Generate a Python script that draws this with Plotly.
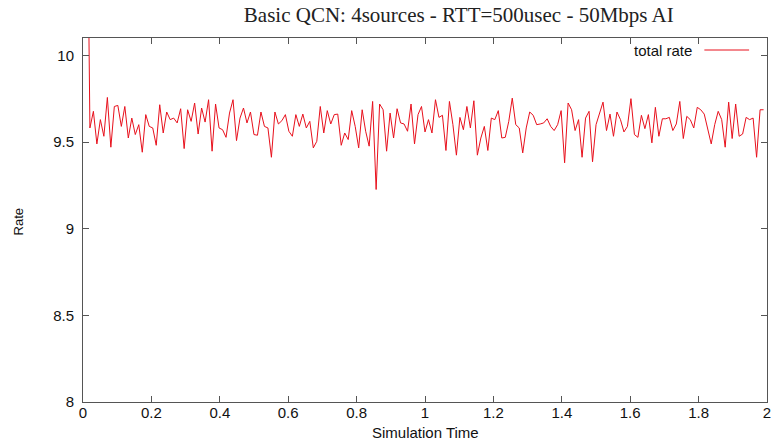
import numpy as np
import plotly.graph_objects as go

seg1 = [11.5, 9.581, 9.677, 9.489, 9.629, 9.533, 9.757, 9.470, 9.705, 9.711, 9.590, 9.705, 9.523,
        9.638, 9.543, 9.600, 9.441, 9.658, 9.590, 9.581, 9.481, 9.715, 9.552, 9.673, 9.629, 9.638,
        9.610, 9.692, 9.462, 9.686, 9.619, 9.725, 9.546, 9.696, 9.615, 9.744, 9.447]
seg2 = [9.719, 9.581, 9.571, 9.527, 9.667, 9.744, 9.508, 9.638, 9.696, 9.610, 9.673, 9.543, 9.539,
        9.673, 9.590, 9.581, 9.412, 9.673, 9.604, 9.623, 9.658, 9.562, 9.533, 9.658, 9.590, 9.661,
        9.581, 9.619, 9.466, 9.504, 9.705, 9.552, 9.681, 9.604, 9.658, 9.661, 9.481, 9.552, 9.514]
seg3 = [9.681, 9.590, 9.466, 9.686, 9.562, 9.476, 9.734, 9.226, 9.719, 9.686, 9.447, 9.667, 9.523,
        9.692, 9.610, 9.604, 9.562, 9.719, 9.489, 9.658, 9.705, 9.558, 9.629, 9.552, 9.744, 9.642,
        9.654, 9.451, 9.734, 9.600, 9.424, 9.642, 9.571, 9.705, 9.581, 9.738, 9.424, 9.523, 9.590, 9.451]
seg4 = [9.638, 9.629, 9.681, 9.523, 9.527, 9.619, 9.753, 9.600, 9.581, 9.437, 9.581, 9.673, 9.654,
        9.600, 9.604, 9.610, 9.634, 9.590, 9.566, 9.600, 9.681, 9.380, 9.725, 9.686, 9.566, 9.629,
        9.412, 9.638, 9.677, 9.386, 9.600, 9.667, 9.730, 9.566, 9.661, 9.533, 9.673, 9.629, 9.558, 9.590]
seg5 = [9.750, 9.543, 9.527, 9.654, 9.577, 9.658, 9.495, 9.700, 9.533, 9.634, 9.634, 9.642, 9.566,
        9.604, 9.734, 9.520, 9.648, 9.629, 9.581, 9.700, 9.686, 9.661, 9.580, 9.489, 9.600, 9.677,
        9.629, 9.470, 9.730, 9.520, 9.719, 9.533, 9.546, 9.642, 9.629, 9.638, 9.412, 9.686, 9.686]

total_rate = seg1 + seg2 + seg3 + seg4 + seg5
t_start, t_end = 0.01, 1.99
sim_time = np.linspace(t_start, t_end, len(total_rate))

x_ticks = [0, 0.2, 0.4, 0.6, 0.8, 1, 1.2, 1.4, 1.6, 1.8, 2]
y_ticks = [8, 8.5, 9, 9.5, 10]

title_text = "Basic QCN: 4sources - RTT=500usec - 50Mbps AI"
series_name = "total rate"

W, H = 778, 442
ML, MR, MT, MB = 83, 7, 38, 40
PW, PH = W - ML - MR, H - MT - MB

def px_x(p):
    return (p - ML) / PW

def px_y(p):
    return (H - MB - p) / PH

fig = go.Figure()
fig.add_trace(go.Scatter(x=sim_time, y=total_rate, mode="lines", name=series_name,
                         line=dict(color="#e8101c", width=1), showlegend=False))

axis_common = dict(showline=True, linecolor="#555555", linewidth=1, mirror="ticks",
                   ticks="inside", ticklen=6, tickcolor="#555555", showgrid=False,
                   zeroline=False, tickfont=dict(family="Liberation Sans", size=15, color="#111111"))

fig.update_xaxes(range=[0, 2], tickvals=x_ticks, ticktext=[str(v) for v in x_ticks],
                 ticklabelstandoff=-3, **axis_common)
fig.update_yaxes(range=[8, 10.1], tickvals=y_ticks, ticktext=[str(v) for v in y_ticks],
                 ticklabelstandoff=5, **axis_common)

fig.update_layout(
    width=W, height=H,
    margin=dict(l=ML, r=MR, t=MT, b=MB, pad=0),
    paper_bgcolor="white", plot_bgcolor="white",
    title=dict(text=title_text, x=px_x(461), xref="paper", xanchor="center",
               y=1 - 15 / H, yref="container", yanchor="middle",
               font=dict(family="Liberation Serif", size=21, color="#222222")),
)

fig.add_annotation(text="Rate", textangle=-90, xref="paper", yref="paper",
                   x=px_x(18), y=px_y(222), xanchor="center", yanchor="middle", showarrow=False,
                   font=dict(family="Liberation Sans", size=13, color="#111111"))
fig.add_annotation(text="Simulation Time", xref="paper", yref="paper",
                   x=px_x(428), y=px_y(433), xanchor="center", yanchor="middle", showarrow=False,
                   font=dict(family="Liberation Sans", size=15, color="#111111"))

# legend (gnuplot style: label then line sample)
fig.add_annotation(text=series_name, xref="paper", yref="paper", xanchor="right", yanchor="middle",
                   x=px_x(698), y=px_y(50), showarrow=False,
                   font=dict(family="Liberation Sans", size=15, color="#111111"))
fig.add_shape(type="line", xref="paper", yref="paper", x0=px_x(708), x1=px_x(753),
              y0=px_y(50), y1=px_y(50), line=dict(color="#e8101c", width=1))

fig.write_html("out.html")
